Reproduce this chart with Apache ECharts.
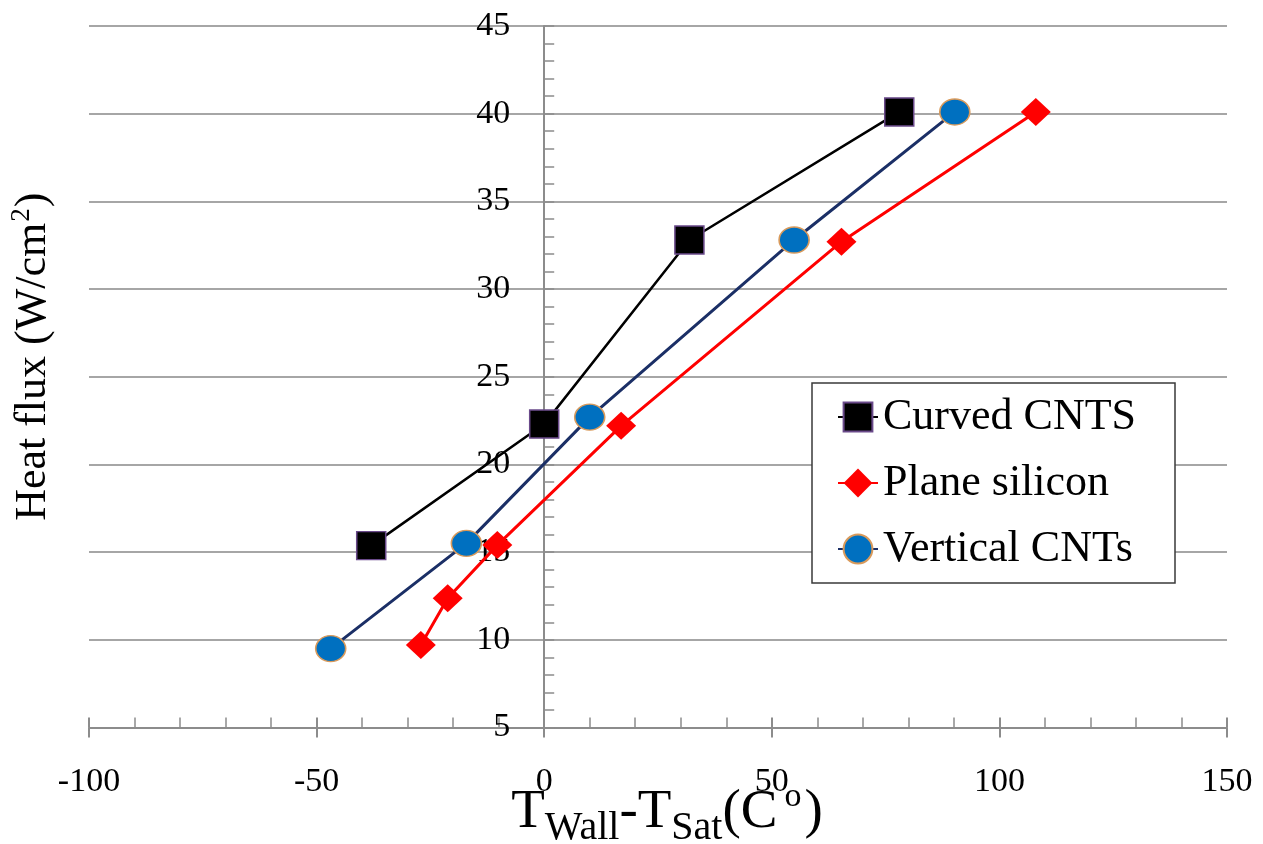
<!DOCTYPE html>
<html>
<head>
<meta charset="utf-8">
<title>Heat flux vs wall superheat</title>
<script src="https://cdn.jsdelivr.net/npm/echarts@6/dist/echarts.min.js"></script>
<style>
  html, body { margin: 0; padding: 0; background: #ffffff; }
  #chart { width: 1263px; height: 844px; }
</style>
</head>
<body>
<div id="chart"></div>
<script>
// Wall superheat (°C) vs heat flux (W/cm²) for three surfaces
const seriesNames = ['Curved CNTS', 'Plane silicon', 'Vertical CNTs'];
const curvedCNTS = [[-38.0, 15.37], [0.0, 22.3], [31.9, 32.8], [78.0, 40.1]];
const planeSilicon = [[-27.1, 9.7], [-21.2, 12.37], [-10.3, 15.4], [16.9, 22.2], [65.3, 32.7], [108.0, 40.1]];
const verticalCNTs = [[-46.9, 9.5], [-17.1, 15.5], [10.0, 22.7], [54.9, 32.8], [90.2, 40.1]];

const xTicks = { min: -100, max: 150, interval: 50 };
const yTicks = { min: 5, max: 45, interval: 5 };

const SERIF = 'Liberation Serif';
const AXIS_GRAY = '#8c8c8c';
const GRID_GRAY = '#a6a6a6';

const GRID = { left: 89, right: 36, top: 26, bottom: 116.5 };
const chartWidth = 1263;
// the value axis is drawn through x = 0, so shift it from the grid's left edge
const plotWidth = chartWidth - GRID.left - GRID.right;
const zeroShift = plotWidth * (0 - xTicks.min) / (xTicks.max - xTicks.min);

const chart = echarts.init(document.getElementById('chart'), null, { renderer: 'canvas' });

chart.setOption({
  backgroundColor: '#ffffff',
  animation: false,
  grid: {
    left: GRID.left, right: GRID.right, top: GRID.top, bottom: GRID.bottom,
    outerBoundsMode: 'none'
  },
  legend: {
    left: 812, top: 383,
    orient: 'vertical',
    data: seriesNames,
    backgroundColor: '#ffffff',
    borderColor: '#3a3a3a',
    borderWidth: 1.5,
    borderRadius: 0,
    padding: [12, 39, 12, 25],
    itemWidth: 40,
    itemHeight: 36,
    itemGap: 22,
    itemTextGap: 2,
    textStyle: { fontFamily: SERIF, fontSize: 44, color: '#000000', lineHeight: 44 }
  },
  xAxis: [
    {
      type: 'value',
      min: xTicks.min, max: xTicks.max, interval: xTicks.interval,
      position: 'bottom',
      axisLine: { show: true, onZero: false, lineStyle: { color: AXIS_GRAY, width: 2 } },
      axisTick: { show: true, inside: true, length: 10, lineStyle: { color: AXIS_GRAY, width: 2 } },
      minorTick: { show: true, splitNumber: 5, length: 10, lineStyle: { color: AXIS_GRAY, width: 1.5 } },
      splitLine: { show: false },
      minorSplitLine: { show: false },
      axisLabel: { margin: 38, fontFamily: SERIF, fontSize: 34, color: '#000000' },
      name: '{m|T}{sub|Wall}{m|-T}{sub|Sat}{m|(C}{sup|o}{m|)}',
      nameLocation: 'middle',
      nameGap: 55,
      nameMoveOverlap: false,
      nameTextStyle: {
        fontFamily: SERIF, color: '#000000', padding: [0, 0, 0, 18],
        rich: {
          m: { fontFamily: SERIF, fontSize: 55, lineHeight: 60, color: '#000000' },
          sub: { fontFamily: SERIF, fontSize: 40, lineHeight: 40, color: '#000000', padding: [31, 0, 0, 0] },
          sup: { fontFamily: SERIF, fontSize: 34, lineHeight: 34, color: '#000000', padding: [0, 3, 31, 7] }
        }
      }
    },
    {
      // crossing part of the major ticks, below the axis line
      type: 'value',
      min: xTicks.min, max: xTicks.max, interval: xTicks.interval,
      position: 'bottom',
      axisLine: { show: false, onZero: false },
      axisTick: { show: true, inside: false, length: 10, lineStyle: { color: AXIS_GRAY, width: 2 } },
      axisLabel: { show: false },
      splitLine: { show: false }
    }
  ],
  yAxis: [
    {
      type: 'value',
      min: yTicks.min, max: yTicks.max, interval: yTicks.interval,
      position: 'left',
      offset: -zeroShift,
      axisLine: { show: true, onZero: false, lineStyle: { color: AXIS_GRAY, width: 2 } },
      axisTick: { show: true, inside: true, length: 10, lineStyle: { color: AXIS_GRAY, width: 1.5 } },
      minorTick: { show: true, splitNumber: 5, length: 10, lineStyle: { color: AXIS_GRAY, width: 1.5 } },
      splitLine: { show: true, lineStyle: { color: GRID_GRAY, width: 2 } },
      axisLabel: { margin: 34, fontFamily: SERIF, fontSize: 34, color: '#000000' }
    },
    {
      // carries the axis title at the left edge of the plot
      type: 'value',
      min: yTicks.min, max: yTicks.max, interval: yTicks.interval,
      position: 'left',
      axisLine: { show: false, onZero: false },
      axisTick: { show: false },
      axisLabel: { show: false },
      splitLine: { show: false },
      name: '{m|Heat flux (W/cm}{sup|2}{m|)}',
      nameLocation: 'middle',
      nameRotate: 90,
      nameGap: 32,
      nameMoveOverlap: false,
      nameTextStyle: {
        fontFamily: SERIF, color: '#000000', padding: [0, 0, 0, 40],
        rich: {
          m: { fontFamily: SERIF, fontSize: 44, lineHeight: 48, color: '#000000' },
          sup: { fontFamily: SERIF, fontSize: 27, lineHeight: 27, color: '#000000', padding: [0, 1, 22, 1] }
        }
      }
    }
  ],
  series: [
    {
      name: seriesNames[0],
      type: 'line',
      data: curvedCNTS,
      symbol: 'rect',
      symbolSize: [29, 28],
      lineStyle: { color: '#000000', width: 2.5 },
      itemStyle: { color: '#000000', borderColor: '#6a4a8a', borderWidth: 1.5 },
      z: 3
    },
    {
      name: seriesNames[1],
      type: 'line',
      data: planeSilicon,
      symbol: 'diamond',
      symbolSize: [30, 28],
      lineStyle: { color: '#ff0000', width: 3 },
      itemStyle: { color: '#ff0000', borderColor: '#ff0000', borderWidth: 0 },
      z: 4
    },
    {
      name: seriesNames[2],
      type: 'line',
      data: verticalCNTs,
      symbol: 'circle',
      symbolSize: [30, 26],
      lineStyle: { color: '#1b2f66', width: 3 },
      itemStyle: { color: '#0070c0', borderColor: '#d99a5b', borderWidth: 1.5 },
      z: 5
    }
  ]
});
</script>
</body>
</html>
